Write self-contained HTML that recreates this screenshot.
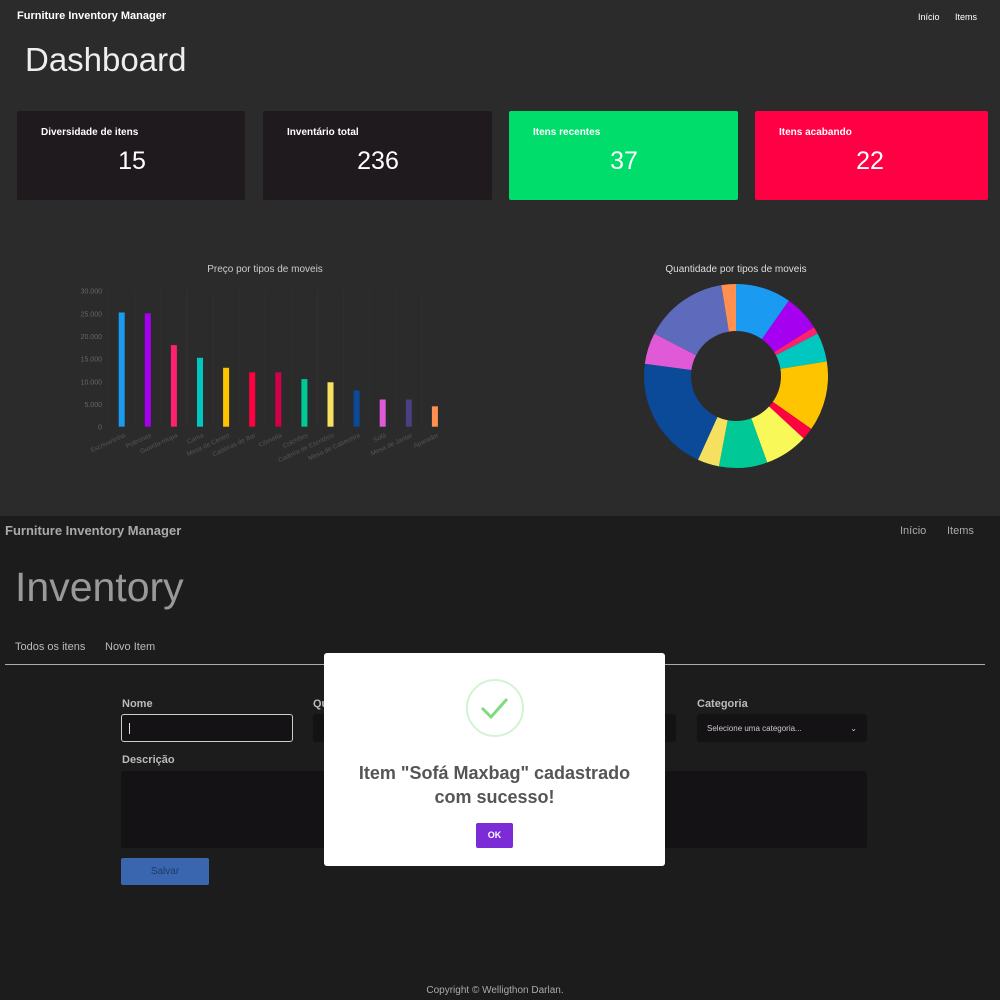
<!DOCTYPE html>
<html><head><meta charset="utf-8"><style>
*{box-sizing:border-box;margin:0;padding:0}
body{width:1000px;height:1000px;position:relative;overflow:hidden;font-family:"Liberation Sans","DejaVu Sans",sans-serif;background:#1c1c1c}
.a{position:absolute}
.top{left:0;top:0;width:1000px;height:516px;background:#2b2b2b}
.card{top:111px;height:89px;border-radius:2px;color:#fff}
.card .l{position:absolute;left:24px;top:16px;font-size:10px;font-weight:bold}
.card .v{position:absolute;left:0;width:230px;text-align:center;top:36px;font-size:25px}
.lbl{font-size:11px;font-weight:bold;color:#bbb}
.inp{background:#141214;border-radius:3px}
</style></head><body>
<div class="a top">
<div class="a" style="left:17px;top:10px;font-size:11px;font-weight:bold;color:#fff">Furniture Inventory Manager</div>
<div class="a" style="left:918px;top:12px;font-size:9px;color:#fff">Início</div>
<div class="a" style="left:955px;top:12px;font-size:9px;color:#fff">Items</div>
<div class="a" style="left:25px;top:41px;font-size:33px;color:#eee">Dashboard</div>
<div class="a card" style="left:17px;width:228px;background:#1e1a1e"><div class="l">Diversidade de itens</div><div class="v">15</div></div>
<div class="a card" style="left:263px;width:229px;background:#1e1a1e"><div class="l">Inventário total</div><div class="v">236</div></div>
<div class="a card" style="left:509px;width:229px;background:#00dd6a"><div class="l">Itens recentes</div><div class="v">37</div></div>
<div class="a card" style="left:755px;width:233px;background:#ff0044"><div class="l">Itens acabando</div><div class="v">22</div></div>
<svg class="a" id="bar" style="left:0;top:250px" width="500" height="230"></svg>
<svg class="a" id="pie" style="left:500px;top:250px" width="500" height="240"></svg>
</div>
<div class="a" style="left:5px;top:523px;font-size:13px;font-weight:bold;color:#aaa">Furniture Inventory Manager</div>
<div class="a" style="left:900px;top:525px;font-size:11px;color:#aaa">Início</div>
<div class="a" style="left:947px;top:525px;font-size:11px;color:#aaa">Items</div>
<div class="a" style="left:15px;top:564px;font-size:41px;color:#999">Inventory</div>
<div class="a" style="left:15px;top:641px;font-size:11px;color:#bbb">Todos os itens</div>
<div class="a" style="left:105px;top:641px;font-size:11px;color:#bbb">Novo Item</div>
<div class="a" style="left:5px;top:664px;width:980px;height:1px;background:#aaa"></div>
<div class="a lbl" style="left:122px;top:698px">Nome</div>
<div class="a inp" style="left:121px;top:714px;width:172px;height:28px;border:1px solid #ccc"><div class="a" style="left:7px;top:8px;width:1px;height:11px;background:#ddd"></div></div>
<div class="a lbl" style="left:313px;top:698px">Qu</div>
<div class="a inp" style="left:313px;top:714px;width:363px;height:28px"></div>
<div class="a lbl" style="left:697px;top:698px">Categoria</div>
<div class="a inp" style="left:697px;top:714px;width:170px;height:28px;font-size:8px;color:#ccc;padding:10px 10px">Selecione uma categoria...<span style="float:right">⌄</span></div>
<div class="a lbl" style="left:122px;top:754px">Descrição</div>
<div class="a inp" style="left:121px;top:771px;width:746px;height:77px"></div>
<div class="a" style="left:121px;top:858px;width:88px;height:27px;background:#3a66b0;border-radius:2px;color:#1e3a66;font-size:10px;text-align:center;line-height:27px">Salvar</div>
<div class="a" style="left:324px;top:653px;width:341px;height:213px;background:#fff;border-radius:3px">
<svg class="a" style="left:141px;top:25px" width="60" height="60"><circle cx="30" cy="30" r="28" fill="none" stroke="#d3f3d3" stroke-width="2"/><path d="M17 30 L26 39 L42 21" fill="none" stroke="#7ddc7d" stroke-width="3"/></svg>
<div class="a" style="left:0;width:341px;top:108px;text-align:center;font-size:18px;line-height:24px;color:#555;font-weight:bold">Item "Sofá Maxbag" cadastrado<br>com sucesso!</div>
<div class="a" style="left:152px;top:170px;width:37px;height:25px;background:#7b2cd6;border-radius:2px;color:#fff;font-size:9px;font-weight:bold;text-align:center;line-height:25px">OK</div>
</div>
<div class="a" style="left:0;width:990px;top:985px;text-align:center;font-size:10px;color:#aaa">Copyright © Welligthon Darlan.</div>
<script>
const barCats=["Escrivaninha","Poltronas","Guarda-roupa","Cama","Mesa de Centro","Cadeiras de Bar","Cômoda","Colchões","Cadeira de Escritório","Mesa de Cabeceira","Sofá","Mesa de Jantar","Aparador"];
const barVals=[25200,25000,18000,15200,13000,12000,12000,10500,9800,8000,6000,6000,4500];
const barColors=["#1a9af0","#a600f0","#ff2070","#00c8c0","#ffc400","#ff0040","#d0004a","#00c896","#f8e060","#0a4a99","#e05ad8","#4a3f80","#ff9050"];
const yTicks=[0,5000,10000,15000,20000,25000,30000];
const yTickLabels=["0","5.000","10.000","15.000","20.000","25.000","30.000"];
const pieCats=["Escrivaninha","Poltronas","Guarda-roupa","Cama","Mesa de Centro","Cadeiras de Bar","Colchões","Sofá retro","Cadeira","Mesa de Cabeceira","Sofá","Estante","Aparador"];
const pieVals=[23,15,3,12,29,5,18,20,9,48,13,35,6];
const pieColors=["#1a9af0","#a600f0","#ff2070","#00c8c0","#ffc400","#ff0040","#f8f858","#00c896","#f5e060","#0a4a99","#e05ad8","#5e6bbd","#ff9050"];
const NS="http://www.w3.org/2000/svg";
function mk(p,t,at){const e=document.createElementNS(NS,t);for(const k in at)e.setAttribute(k,at[k]);p.appendChild(e);return e;}
const bar=document.getElementById('bar');
const y0=176.7,yH=136,x0=121.7,dx=26.1;
const ys=v=>y0-v/30000*yH, xs=i=>x0+i*dx;
let t=mk(bar,'text',{x:265,y:22,'text-anchor':'middle','font-size':10,fill:'#ccc'});t.textContent="Preço por tipos de moveis";

barCats.forEach((c,i)=>{const g=mk(bar,'line',{x1:xs(i)-13,x2:xs(i)-13,y1:ys(30000),y2:y0,stroke:'#303030'});
});
yTicks.forEach((v,i)=>{
const l=mk(bar,'text',{x:102,y:ys(v)+3,'text-anchor':'end','font-size':7,fill:'#666'});l.textContent=yTickLabels[i];
});
barCats.forEach((c,i)=>{const r=mk(bar,'rect',{x:xs(i)-3,y:ys(barVals[i]),width:6,height:y0-ys(barVals[i]),fill:barColors[i]});

const l=mk(bar,'text',{x:xs(i)+4,y:y0+10,'text-anchor':'end','font-size':6.5,fill:'#555',transform:`rotate(-25 ${xs(i)+4} ${y0+10})`});l.textContent=c;
});
const pie=document.getElementById('pie');
t=mk(pie,'text',{x:236,y:22,'text-anchor':'middle','font-size':10,fill:'#ddd'});t.textContent="Quantidade por tipos de moveis";

const cx=236,cy=126,R=92,r0=45,tot=pieVals.reduce((a,b)=>a+b,0);let a=0;
const pt=(ang,rad)=>[cx+rad*Math.sin(ang),cy-rad*Math.cos(ang)];
pieVals.forEach((v,i)=>{const a1=a+v/tot*2*Math.PI;const lg=(a1-a)>Math.PI?1:0;
const [x1,y1]=pt(a,R),[x2,y2]=pt(a1,R),[x3,y3]=pt(a1,r0),[x4,y4]=pt(a,r0);
const p=mk(pie,'path',{d:`M${x1} ${y1}A${R} ${R} 0 ${lg} 1 ${x2} ${y2}L${x3} ${y3}A${r0} ${r0} 0 ${lg} 0 ${x4} ${y4}Z`,fill:pieColors[i]});
a=a1;});
</script>
</body></html>
